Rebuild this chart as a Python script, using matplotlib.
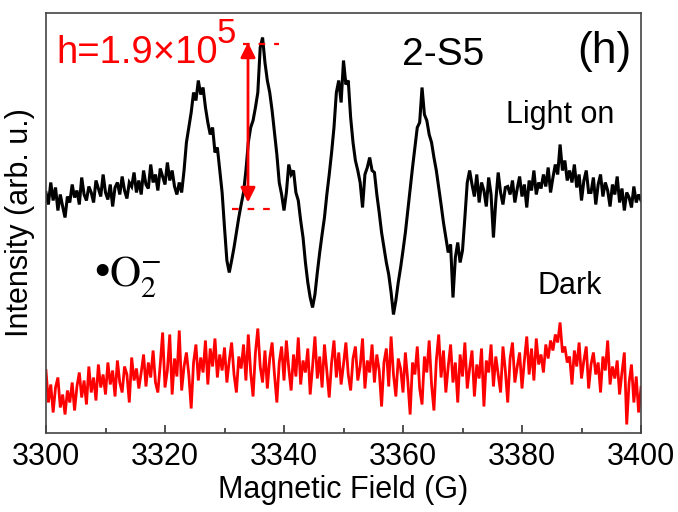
import numpy as np
import matplotlib
matplotlib.use("Agg")
import matplotlib.pyplot as plt

plt.rcParams['font.family'] = ['Liberation Sans', 'DejaVu Sans']

# ---- data (arbitrary intensity units), field sweep 3300-3400 G ----
light_on = [
    240, 228, 250, 232, 245, 222, 238, 226, 215, 236,
    230, 248, 235, 242, 228, 255, 238, 232, 246, 240,
    230, 252, 244, 236, 258, 240, 233, 248, 226, 245,
    250, 238, 256, 242, 234, 250, 246, 260, 240, 252,
    238, 262, 248, 244, 268, 250, 258, 242, 264, 256,
    248, 270, 252, 262, 246, 238,
    250, 240, 262, 290, 305, 320, 340, 332, 352, 338,
    345, 325, 310, 298, 305, 280, 285, 262, 240, 205, 172, 160,
    172, 185, 200, 215, 228, 240, 262, 290, 305, 312, 325, 340, 385, 395,
    370, 352, 340, 322, 300, 278, 250, 238, 222, 240, 268, 258, 262, 240,
    232, 212, 195, 170, 150, 135, 125,
    138, 160, 180, 198, 215, 238, 258, 280, 305, 340, 352, 330, 372, 348, 352,
    315, 290, 272, 262, 250, 225, 258, 265, 275, 262, 260, 238, 220, 200,
    185, 170, 158, 140, 118, 132,
    150, 165, 182, 200, 222, 245, 265, 285, 305, 310, 345, 318, 312, 298,
    290, 275, 262, 245, 228, 210, 195, 180, 188, 135, 175, 190, 170, 182,
    215, 250, 262,
    248, 236, 258, 230, 250, 242, 226, 255, 238, 195,
    232, 260, 240, 228, 245, 246, 238, 252, 230, 244,
    256, 236, 248, 225, 252, 242, 262, 238, 250, 244,
    258, 246, 265, 240, 255, 268, 258, 288, 262, 272,
    252, 262, 250, 268, 245, 258, 232, 252, 262, 240,
    240, 255, 228, 248, 258, 236, 250, 242, 226, 248,
    238, 256, 230, 244, 222, 240, 235, 225, 246, 230,
    238, 232,
]

dark = [
    62, 30, 48, 20, 45, 55, 25, 38, 18, 42,
    30, 50, 22, 46, 60, 35, 52, 28, 66, 40,
    55, 32, 68, 45, 58, 38, 70, 48, 62, 36,
    72, 50, 40, 66, 58, 30, 75, 52, 64, 44,
    60, 78, 46, 70, 55, 82, 50, 40, 68, 100,
    45, 62, 98, 38, 74, 56, 102, 42, 66, 80,
    58, 24, 70, 88, 52, 75, 60, 92, 48, 84,
    66, 94, 55, 78, 62, 85, 50, 72, 90, 58,
    40, 76, 64, 88, 52, 98, 60, 36, 80, 104,
    66, 50, 82, 44, 74, 90, 58, 30, 70, 86,
    52, 92, 64, 42, 78, 56, 95, 48, 72, 60,
    84, 38, 66, 96, 54, 76, 45, 88, 62, 35,
    70, 92, 55, 80, 48, 68, 90, 58, 42, 74,
    86, 52, 66, 94, 44, 72, 60, 88, 50, 78,
    62, 26, 70, 84, 46, 96, 58, 36, 74, 64,
    40, 80, 52, 18, 70, 58, 86, 44, 28, 76,
    60, 92, 48, 22, 72, 98, 55, 82, 40, 66,
    88, 50, 70, 30, 78, 56, 90, 44, 64, 82,
    36, 68, 54, 84, 26, 72, 60, 88, 46, 76,
    58, 40, 86, 62, 30, 74, 90, 50, 66, 80,
    44, 72, 96, 58, 84, 52, 94, 68, 78, 60,
    88, 74, 92, 82, 98, 90, 110, 80, 86, 70,
    76, 48, 82, 66, 90, 54, 72, 86, 44, 68,
    80, 58, 70, 40, 76, 62, 92, 48, 66, 54,
    72, 38, 60, 80, 8, 50, 68, 30, 56, 20,
    45,
]

field_light = np.linspace(3300, 3400, len(light_on))
field_dark = np.linspace(3300, 3400, len(dark))
xticks = [3300, 3320, 3340, 3360, 3380, 3400]

W, H = 678, 512
fig = plt.figure(figsize=(W / 100, H / 100), dpi=100)
ax = fig.add_axes([46 / W, 1 - 432.5 / H, (641 - 46) / W, (432.5 - 13) / H])

ax.plot(field_light, light_on, color='black', lw=2.2, solid_joinstyle='miter')
ax.plot(field_dark, dark, color='#ff0000', lw=2.0, solid_joinstyle='miter')

ax.set_xlim(3300, 3400)
ax.set_ylim(0, 419.5)
ax.set_xticks(xticks)
ax.set_xticks(np.arange(3310, 3400, 20), minor=True)
ax.set_yticks([])
ax.tick_params(axis='x', which='major', direction='in', length=6, width=1.2,
               labelsize=22, pad=7, color='#333333')
ax.tick_params(axis='x', which='minor', direction='in', length=3.5, width=1.2,
               color='#333333')
for s in ax.spines.values():
    s.set_color('#444444')
    s.set_linewidth(1.2)

ax.set_xlabel('Magnetic Field (G)', fontsize=22, labelpad=2)
ax.set_ylabel('Intensity (arb. u.)', fontsize=22, labelpad=8)

# red height annotation
ax.annotate('', xy=(3333.95, 390), xytext=(3333.95, 230),
            arrowprops=dict(arrowstyle='<|-|>', color='#ff0000', lw=2,
                            mutation_scale=22, shrinkA=0, shrinkB=0))
ax.plot([3333.1, 3339.2], [389, 389], color='#ff0000', lw=1.6, dashes=(3, 4))
ax.plot([3331.3, 3338.0], [224, 224], color='#ff0000', lw=1.6, dashes=(3, 4))


def fp(x, y):
    return x / W, 1 - y / H


fig.text(*fp(56, 63), 'h=1.9×10', color='#ff0000', fontsize=27.5, va='baseline')
fig.text(*fp(217, 43), '5', color='#ff0000', fontsize=25, va='baseline')
fig.text(*fp(402, 65), '2-S5', color='black', fontsize=28, va='baseline')
fig.text(*fp(577, 52), '(h)', color='black', fontsize=32, va='center')
fig.text(*fp(506, 115), 'Light on', color='black', fontsize=22, va='center')
fig.text(*fp(537, 286), 'Dark', color='black', fontsize=22, va='center')
fig.text(*fp(93, 287), '•', color='black', fontsize=36, va='baseline',
         family='Liberation Serif')
fig.text(*fp(109, 287), r'$\mathrm{O}_{2}^{-}$', color='black', fontsize=31,
         va='baseline', math_fontfamily='stix')

fig.savefig('out.png', dpi=100)
